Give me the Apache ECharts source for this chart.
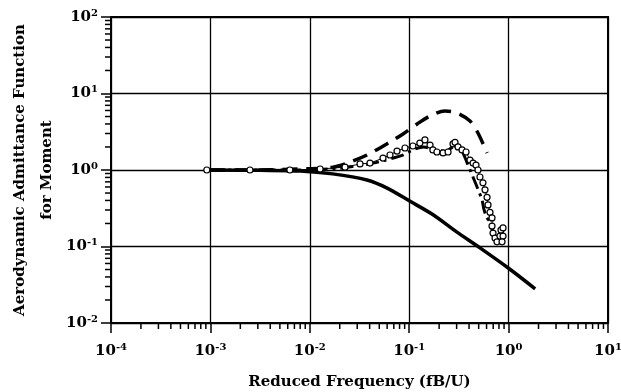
<!DOCTYPE html>
<html>
<head>
<meta charset="utf-8">
<script src="https://cdn.jsdelivr.net/npm/echarts@6/dist/echarts.min.js"></script>
<style>
  html, body { margin: 0; padding: 0; background: #fff; }
  #chart { width: 621px; height: 392px; }
</style>
</head>
<body>
<div id="chart"></div>
<script>
// Theoretical admittance (solid)
const theoryX = [0.001, 0.00316, 0.008, 0.017, 0.0376, 0.06, 0.102, 0.174, 0.30, 0.515, 1.0, 1.85];
const theoryY = [1.0, 0.99, 0.97, 0.89, 0.74, 0.58, 0.39, 0.26, 0.155, 0.096, 0.052, 0.028];

// Model prediction A (long dashes)
const modelAX = [0.001, 0.00316, 0.008, 0.0171, 0.0254, 0.0376, 0.0641, 0.0867, 0.120, 0.162, 0.229, 0.303, 0.409, 0.492, 0.607];
const modelAY = [1.0, 1.0, 1.03, 1.09, 1.27, 1.57, 2.32, 2.96, 3.99, 5.08, 5.91, 5.56, 4.37, 3.05, 1.67];

// Model prediction B (dash-dot)
const modelBX = [0.001, 0.008, 0.02, 0.028, 0.04, 0.056, 0.085, 0.11, 0.14, 0.18, 0.23, 0.28, 0.33, 0.38, 0.43, 0.54, 0.56, 0.60, 0.65, 0.70, 0.76];
const modelBY = [1.0, 1.0, 1.05, 1.12, 1.2, 1.33, 1.55, 1.85, 2.0, 1.85, 1.75, 2.0, 1.9, 1.27, 0.86, 0.41, 0.32, 0.24, 0.21, 0.15, 0.12];

// Measured values (open circles)
const measX = [0.00092, 0.0025, 0.0063, 0.0127, 0.0226, 0.032, 0.0403, 0.0545, 0.0641, 0.0754, 0.0907, 0.109, 0.128, 0.144, 0.162, 0.173, 0.19, 0.219, 0.246, 0.276, 0.289, 0.31, 0.34, 0.373, 0.409, 0.439, 0.47, 0.492, 0.515, 0.552, 0.579, 0.607, 0.621, 0.65, 0.681, 0.681, 0.697, 0.73, 0.764, 0.819, 0.838, 0.879, 0.879, 0.859];
const measY = [1.0, 1.0, 1.0, 1.03, 1.09, 1.2, 1.23, 1.43, 1.57, 1.77, 1.94, 2.06, 2.25, 2.47, 2.12, 1.83, 1.72, 1.67, 1.72, 2.19, 2.3, 2.0, 1.83, 1.72, 1.35, 1.23, 1.16, 1.0, 0.81, 0.68, 0.55, 0.44, 0.35, 0.28, 0.236, 0.185, 0.15, 0.129, 0.115, 0.137, 0.164, 0.175, 0.137, 0.115];

// Axis ranges and logarithmic minor tick values
const xRange = [1e-4, 10];
const yRange = [1e-2, 100];
const xMinor = [];
for (let e = -4; e < 1; e++) for (let m = 2; m <= 9; m++) xMinor.push(m * Math.pow(10, e));
const yMinor = [];
for (let e = -2; e < 2; e++) for (let m = 2; m <= 9; m++) yMinor.push(m * Math.pow(10, e));

const zip = (a, b) => a.map((v, i) => [v, b[i]]);
const FONT = 'DejaVu Serif';

function powLabel(v) {
  const e = Math.round(Math.log10(v));
  return '{b|10}{s|' + e + '}';
}
const richLabel = {
  b: { fontFamily: FONT, fontWeight: 'bold', fontSize: 15, color: '#000' },
  s: { fontFamily: FONT, fontWeight: 'bold', fontSize: 10, color: '#000', verticalAlign: 'top', padding: [0, 0, 8, 0] }
};

const chart = echarts.init(document.getElementById('chart'), null, { renderer: 'canvas' });

chart.setOption({
  animation: false,
  backgroundColor: '#fff',
  grid: {
    left: 111, right: 13, top: 17, bottom: 69,
    containLabel: false, outerBoundsMode: 'none',
    show: true, borderColor: '#000', borderWidth: 2, backgroundColor: 'transparent'
  },
  xAxis: {
    type: 'log', logBase: 10, min: xRange[0], max: xRange[1],
    name: 'Reduced Frequency (fB/U)',
    nameLocation: 'middle', nameGap: 52, nameMoveOverlap: false,
    nameTextStyle: { fontFamily: FONT, fontWeight: 'bold', fontSize: 15, color: '#000' },
    axisLine: { show: true, lineStyle: { color: '#000', width: 2 } },
    axisTick: { show: true, inside: false, length: 10, lineStyle: { color: '#000', width: 1.5 } },
    axisLabel: { margin: 19, formatter: powLabel, rich: richLabel },
    splitLine: { show: true, lineStyle: { color: '#000', width: 1.3 } },
    minorTick: { show: false }
  },
  yAxis: {
    type: 'log', logBase: 10, min: yRange[0], max: yRange[1],
    name: 'Aerodynamic Admittance Function\nfor Moment',
    nameLocation: 'middle', nameGap: 50, nameRotate: 90, nameMoveOverlap: false,
    nameTextStyle: { fontFamily: FONT, fontWeight: 'bold', fontSize: 15, color: '#000', lineHeight: 27 },
    axisLine: { show: true, lineStyle: { color: '#000', width: 2 } },
    axisTick: { show: true, inside: false, length: 10, lineStyle: { color: '#000', width: 1.5 } },
    axisLabel: { margin: 13, formatter: powLabel, rich: richLabel },
    splitLine: { show: true, lineStyle: { color: '#000', width: 1.3 } }
  },
  series: [
    {
      // minor ticks along the frequency axis
      type: 'custom', silent: true, clip: false, z: 1,
      data: xMinor.map(v => [v, yRange[0]]),
      renderItem: (params, api) => {
        const p = api.coord([api.value(0), api.value(1)]);
        return { type: 'line', shape: { x1: p[0], y1: p[1], x2: p[0], y2: p[1] + 6 },
                 style: { stroke: '#000', lineWidth: 1.5 } };
      }
    },
    {
      // minor ticks along the admittance axis
      type: 'custom', silent: true, clip: false, z: 1,
      data: yMinor.map(v => [xRange[0], v]),
      renderItem: (params, api) => {
        const p = api.coord([api.value(0), api.value(1)]);
        return { type: 'line', shape: { x1: p[0], y1: p[1], x2: p[0] - 6, y2: p[1] },
                 style: { stroke: '#000', lineWidth: 1.5 } };
      }
    },
    {
      type: 'line', data: zip(theoryX, theoryY), smooth: 0.3, showSymbol: false,
      lineStyle: { color: '#000', width: 3.5 }, z: 3
    },
    {
      type: 'line', data: zip(modelAX, modelAY), smooth: 0.3, showSymbol: false,
      lineStyle: { color: '#000', width: 3.5, type: [15, 9] }, z: 3
    },
    {
      type: 'line', data: zip(modelBX, modelBY), smooth: 0.2, showSymbol: false,
      lineStyle: { color: '#000', width: 3, type: [13, 5, 3, 5] }, z: 4
    },
    {
      type: 'line', data: zip(measX, measY), showSymbol: true, symbol: 'circle', symbolSize: 6,
      lineStyle: { color: '#000', width: 1 },
      itemStyle: { color: '#fff', borderColor: '#000', borderWidth: 1.2 }, z: 5
    }
  ]
});
</script>
</body>
</html>
